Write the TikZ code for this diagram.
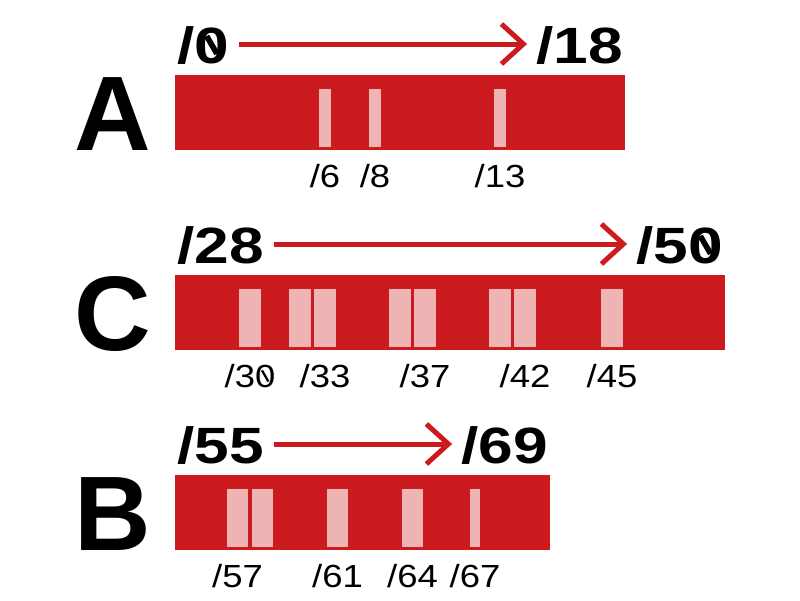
\documentclass[tikz,border=0pt]{standalone}
\usepackage{fontspec}
\setmainfont{Liberation Sans}
\newfontfamily\endfont{Liberation Sans}[FakeStretch=1.22]
\newfontfamily\posfont{Liberation Sans}[FakeStretch=1.14]
\usepackage{graphicx}
\usetikzlibrary{arrows.meta,positioning}
\definecolor{barRed}{RGB}{204,27,30}
\definecolor{slotPink}{RGB}{238,180,180}
% slashed zero, the stroke is a rule
\newcommand{\zr}[1][.07em]{\ooalign{0\cr\hidewidth\raisebox{.5em}{\rotatebox{-60}{\rule{.4em}{#1}}}\hidewidth\cr}}
\tikzset{
     barNode/.style =
        { rectangle
        , fill=barRed
        , inner sep=0pt
        , outer sep=0pt
        , minimum height=75pt
        , anchor=north west
        }
   , slotNode/.style =
        { rectangle
        , fill=slotPink
        , inner sep=0pt
        , outer sep=0pt
        , minimum height=58pt
        , anchor=north
        }
   , rowNode/.style =
        { font=\fontsize{106}{110}\selectfont\bfseries
        , inner sep=0pt
        , anchor=base
        }
   , endNode/.style =
        { font=\endfont\fontsize{51}{56}\selectfont\bfseries
        , inner sep=5pt
        , text height=38pt
        , text depth=0pt
        }
   , posNode/.style =
        { font=\posfont\fontsize{32}{36}\selectfont
        , inner sep=0pt
        , anchor=base
        }
}
\begin{document}
\begin{tikzpicture}
            [ x=1pt
            , y=-1pt
            , flowArrow/.style={draw=barRed, line width=5pt, shorten <=5pt, shorten >=4pt, -{Straight Barb[length=22pt, width=40pt]}}
            ]
            \useasboundingbox (0,0) rectangle (800,600);

            % A
            \node[barNode, minimum width=450pt] (barA) at (175,75) {};
            \node[rowNode] (rowA) at (113,150) {A};
            \foreach \x/\n in {325/6, 375/8, 500/13}
            {
                \node[slotNode, minimum width=12.5pt] (slotA\n) at (\x,89) {};
                \node[posNode] (posA\n) at ([yshift=-40pt]slotA\n.south) {/\n};
            }
            \node[endNode, anchor=base west] (startA) at ([xshift=-3pt,yshift=12pt]barA.north west) {/\zr[.11em]};
            \node[endNode, anchor=base east] (endA) at ([xshift=3pt,yshift=12pt]barA.north east) {/18};
            \draw[flowArrow] (startA) -- (endA);

            % C
            \node[barNode, minimum width=550pt] (barC) at (175,275) {};
            \node[rowNode] (rowC) at (113,350) {C};
            \foreach \x [count=\i] in {250,300,325,400,425,500,525,612}
                \node[slotNode, minimum width=22pt] (slotC\i) at (\x,289) {};
            \foreach \i/\n in {1/3\zr, 3/33, 5/37, 7/42, 8/45}
                \node[posNode] (posC\i) at ([yshift=-40pt]slotC\i.south) {/\n};
            \node[endNode, anchor=base west] (startC) at ([xshift=-3pt,yshift=12pt]barC.north west) {/28};
            \node[endNode, anchor=base east] (endC) at ([xshift=3pt,yshift=12pt]barC.north east) {/5\zr[.11em]};
            \draw[flowArrow] (startC) -- (endC);

            % B
            \node[barNode, minimum width=375pt] (barB) at (175,475) {};
            \node[rowNode] (rowB) at (113,550) {B};
            \foreach \x/\w [count=\i] in {237.5/21, 262.5/21, 337.5/21, 412.5/21, 475/10}
                \node[slotNode, minimum width=\w pt] (slotB\i) at (\x,489) {};
            \foreach \i/\n in {1/57, 3/61, 4/64, 5/67}
                \node[posNode] (posB\i) at ([yshift=-40pt]slotB\i.south) {/\n};
            \node[endNode, anchor=base west] (startB) at ([xshift=-3pt,yshift=12pt]barB.north west) {/55};
            \node[endNode, anchor=base east] (endB) at ([xshift=3pt,yshift=12pt]barB.north east) {/69};
            \draw[flowArrow] (startB) -- (endB);
\end{tikzpicture}
\end{document}
